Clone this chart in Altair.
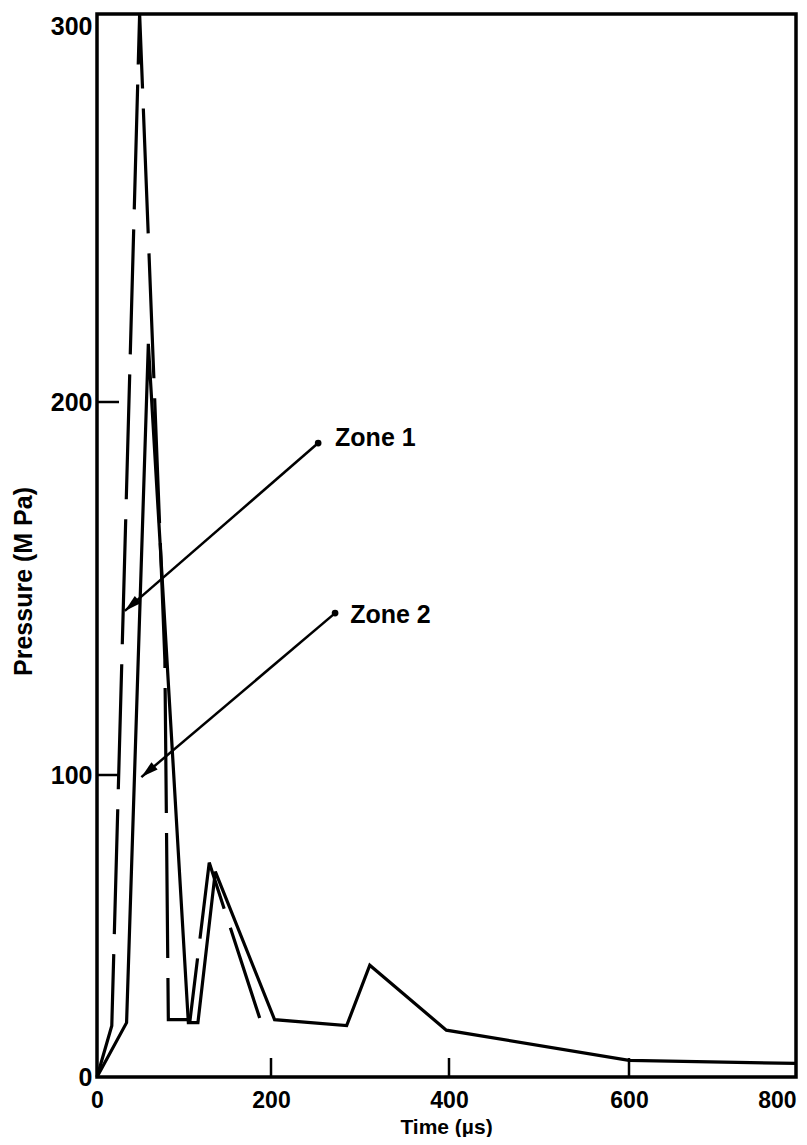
import altair as alt
import pandas as pd

# ---- data ----
zone1_t = [0, 17, 49, 78, 82, 107, 129, 187]
zone1_p = [0, 17, 300, 131, 19, 19, 71, 19.5]

zone2_t = [0, 34, 59, 105, 116, 136, 204, 285, 311, 397, 600, 800]
zone2_p = [0, 18, 215, 18, 18, 68, 19, 17, 37, 15.5, 5.5, 4.5]

x_ticks = [0, 200, 400, 600, 800]
y_ticks = [0, 100, 200, 300]
x_inner_ticks = [200, 400, 600]
y_inner_ticks = [100, 200]

label_names = ["Zone 1", "Zone 2"]
label_t = [272, 289]
label_p = [190.3, 142.9]
arrow_start_t = [253, 272]
arrow_start_p = [189, 143.4]
arrow_tip_t = [32, 51]
arrow_tip_p = [144, 99.3]
arrow_angle = [229, 229.6]

# ---- layout ----
W, H = 699, 1063
FONT = "Liberation Sans"

xscale = alt.Scale(domain=x_ticks, range=[0, 174, 352, 532, W], nice=False, zero=False)
yscale = alt.Scale(domain=y_ticks, range=[H, 761, 388, 0], nice=False, zero=False)

df1 = pd.DataFrame({"t": zone1_t, "p": zone1_p, "i": range(len(zone1_t))})
df2 = pd.DataFrame({"t": zone2_t, "p": zone2_p, "i": range(len(zone2_t))})

x_axis = alt.Axis(
    values=x_ticks, ticks=False, domain=False, grid=False,
    labelFont=FONT, labelFontWeight="bold", labelFontSize=23, labelColor="black",
    labelPadding=12,
    labelAlign={"condition": {"test": "datum.value == 800", "value": "right"}, "value": "center"},
    title="Time (µs)", titleFont=FONT, titleFontWeight="bold", titleFontSize=21,
    titleColor="black", titleX=349, titleY=56, titleBaseline="alphabetic", titleAlign="center",
)
y_axis = alt.Axis(
    values=y_ticks, ticks=False, domain=False, grid=False,
    labelFont=FONT, labelFontWeight="bold", labelFontSize=25, labelColor="black",
    labelPadding=5,
    labelBaseline={"condition": {"test": "datum.value == 300", "value": "top"}, "value": "middle"},
    title="Pressure (M Pa)", titleFont=FONT, titleFontWeight="bold", titleFontSize=25,
    titleColor="black", titleAngle=270, titleX=-74, titleY=567,
    titleBaseline="middle", titleAlign="center",
)

zone1 = alt.Chart(df1).mark_line(
    color="black", strokeWidth=3.2, strokeDash=[125, 20]
).encode(
    x=alt.X("t:Q", scale=xscale, axis=x_axis),
    y=alt.Y("p:Q", scale=yscale, axis=y_axis),
    order="i:Q",
)

zone2 = alt.Chart(df2).mark_line(color="black", strokeWidth=3.2).encode(
    x=alt.X("t:Q", scale=xscale),
    y=alt.Y("p:Q", scale=yscale),
    order="i:Q",
)

ytick_df = pd.DataFrame({"v": y_inner_ticks})
xtick_df = pd.DataFrame({"v": x_inner_ticks})
yticks = alt.Chart(ytick_df).mark_rule(color="black", strokeWidth=2.5).encode(
    y=alt.Y("v:Q", scale=yscale), x=alt.value(0), x2=alt.value(22)
)
xticks = alt.Chart(xtick_df).mark_rule(color="black", strokeWidth=2.5).encode(
    x=alt.X("v:Q", scale=xscale), y=alt.value(H - 19), y2=alt.value(H)
)

ann = pd.DataFrame({
    "name": label_names, "lt": label_t, "lp": label_p,
    "st": arrow_start_t, "sp": arrow_start_p,
    "tt": arrow_tip_t, "tp": arrow_tip_p, "ang": arrow_angle,
})
arrow_lines = alt.Chart(ann).mark_rule(color="black", strokeWidth=2.5).encode(
    x=alt.X("st:Q", scale=xscale), y=alt.Y("sp:Q", scale=yscale),
    x2="tt:Q", y2="tp:Q",
)
arrow_dots = alt.Chart(ann).mark_point(
    shape="circle", filled=True, color="black", size=45, opacity=1
).encode(x=alt.X("st:Q", scale=xscale), y=alt.Y("sp:Q", scale=yscale))
arrow_heads = alt.Chart(ann).mark_point(
    shape="M0,0 L-0.55,2 L0.55,2 Z", filled=True, color="black", size=300, opacity=1,
    strokeWidth=0
).encode(
    x=alt.X("tt:Q", scale=xscale), y=alt.Y("tp:Q", scale=yscale),
    angle=alt.Angle("ang:Q", scale=None),
)
labels = alt.Chart(ann).mark_text(
    align="left", baseline="middle", font=FONT, fontWeight="bold", fontSize=25, color="black"
).encode(
    x=alt.X("lt:Q", scale=xscale), y=alt.Y("lp:Q", scale=yscale), text="name:N"
)

chart = alt.layer(
    zone1, zone2, yticks, xticks, arrow_lines, arrow_dots, arrow_heads, labels
).properties(
    width=W, height=H,
    background="white",
    autosize=alt.AutoSizeParams(type="none"),
    padding={"left": 89, "top": 6, "right": 3, "bottom": 60},
).configure_view(
    stroke="black", strokeWidth=3.5
)

chart.save("out.html", embed_options={"renderer": "svg", "actions": False})
